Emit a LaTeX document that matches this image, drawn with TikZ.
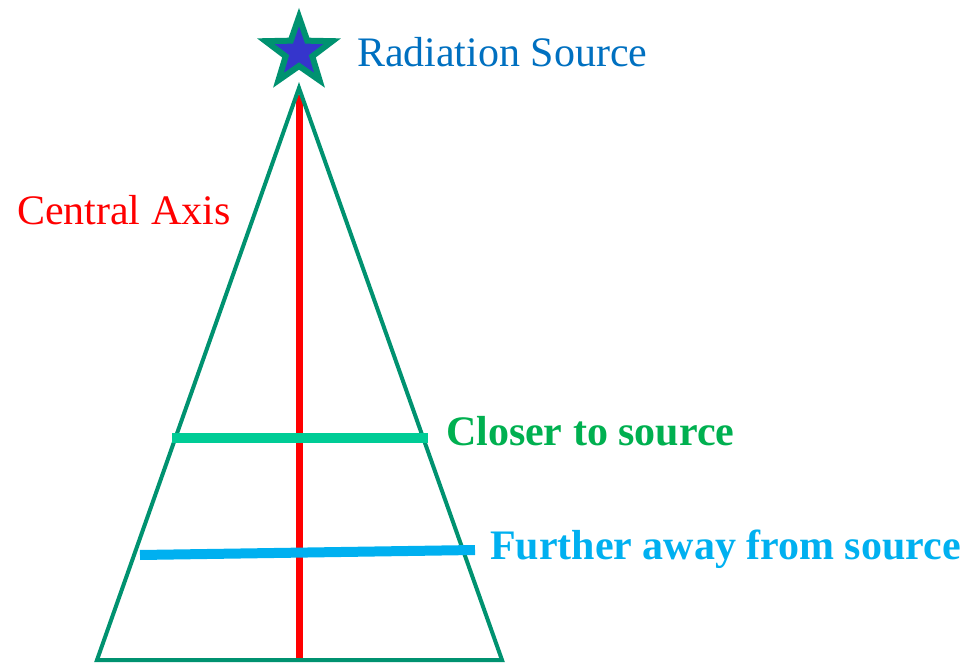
\documentclass[tikz,border=0pt]{standalone}
\usepackage{fontspec}
\setmainfont{Liberation Serif}
\usetikzlibrary{shapes.geometric}
\definecolor{conegreen}{HTML}{009270}
\definecolor{starblue}{HTML}{3535CC}
\definecolor{srcblue}{HTML}{0070C0}
\definecolor{closegreen}{HTML}{00CC96}
\definecolor{closetext}{HTML}{00B050}
\definecolor{farblue}{HTML}{00B0F0}
\tikzset{
  lbl/.style={anchor=west, inner sep=0pt, font=\fontsize{42}{46}\selectfont},
  band/.style={line width=10pt}
}
\begin{document}
\begin{tikzpicture}[x=1pt, y=-1pt, line width=4pt]
  \useasboundingbox (0,0) rectangle (970,663);
  % cone corners
  \coordinate (apex) at (299,88);
  \coordinate (bl) at (97,660);
  \coordinate (br) at (502,660);
  % central axis
  \draw[red, line width=7pt] (299,95) -- (299,662);
  % cone outline
  \draw[conegreen, line join=miter] (apex) -- (bl) -- (br) -- cycle;
  % bands across the cone
  \draw[band, closegreen] (172,438) -- (428,438);
  \draw[band, farblue] (140,555) -- (475,550);
  % source
  \node[star, star points=5, star point ratio=2.5, minimum size=70pt, inner sep=0pt,
        draw=conegreen, fill=starblue, line width=6pt] (src) at (299,52) {};
  % labels
  \node[lbl, text=srcblue] (srclbl) at (355,52) {Radiation Source};
  \node[lbl, text=red] (axislbl) at (15,210) {Central Axis};
  \node[lbl, text=closetext, font=\fontsize{42}{46}\selectfont\bfseries] (closelbl) at (444,431) {Closer to source};
  \node[lbl, text=farblue, font=\fontsize{42}{46}\selectfont\bfseries] (farlbl) at (488,549) {Further away from source};
\end{tikzpicture}
\end{document}
